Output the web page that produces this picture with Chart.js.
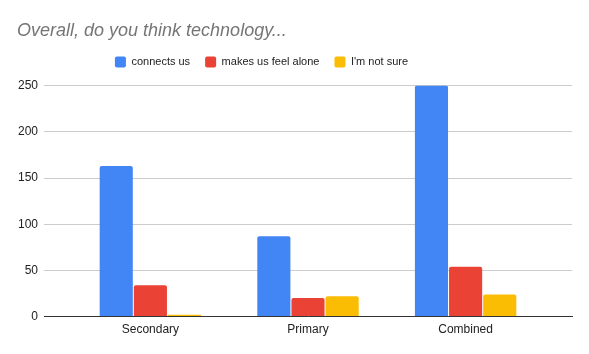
<!DOCTYPE html>
<html>
<head>
<meta charset="utf-8">
<script src="https://cdn.jsdelivr.net/npm/chart.js@4/dist/chart.umd.min.js"></script>
<style>
    body { margin: 0; background: #fff; }
    #wrap { width: 589px; height: 354px; }
</style>
</head>
<body>
<div id="wrap"><canvas id="techChart"></canvas></div>
<script>
const categories = ['Secondary', 'Primary', 'Combined'];
const connectsUs = [163, 87, 250];
const feelAlone = [34, 20, 54];
const notSure = [2, 22, 24];
const yTicks = [0, 50, 100, 150, 200, 250];

function points(values){
    return values.map((v, i) => ({x: i, y: v}));
}

function makeDataset(label, values, color){
    return {
        label: label,
        data: points(values),
        backgroundColor: color,
        borderRadius: {topLeft: 2, topRight: 2},
        borderSkipped: 'bottom',
        categoryPercentage: 0.65,
        barPercentage: 0.97
    };
}

// a bit more room under the legend, and legend pushed left like google's
const legendTweak = {
    id: 'legendTweak',
    beforeInit(chart){
        const fit = chart.legend.fit;
        chart.legend.fit = function(){
            fit.call(this);
            this.height += 8;
        };
    },
    afterLayout(chart){
        chart.legend.left -= 33;
        chart.legend.right -= 33;
    }
};

const data = {
    datasets: [
        makeDataset('connects us', connectsUs, '#4285F4'),
        makeDataset('makes us feel alone', feelAlone, '#EA4335'),
        makeDataset("I'm not sure", notSure, '#FBBC04')
    ]
};

const config = {
    type: 'bar',
    data: data,
    plugins: [legendTweak],
    options: {
        responsive: true,
        maintainAspectRatio: false,
        animation: false,
        layout: {
            padding: {left: 17, right: 17, top: 20, bottom: 11}
        },
        plugins: {
            title: {
                display: true,
                text: 'Overall, do you think technology...',
                align: 'start',
                color: '#757575',
                font: {family: 'Liberation Sans, Arial', size: 18, style: 'italic', weight: 'normal'},
                padding: {top: 0, bottom: 0}
            },
            legend: {
                position: 'top',
                labels: {
                    color: '#222',
                    font: {family: 'Liberation Sans, Arial', size: 11},
                    boxWidth: 11,
                    boxHeight: 11,
                    useBorderRadius: true,
                    borderRadius: 2,
                    padding: 15
                }
            },
            tooltip: {enabled: false}
        },
        scales: {
            x: {
                type: 'linear',
                offset: false,
                min: -0.675,
                max: 2.675,
                grid: {display: false, drawTicks: false},
                border: {display: true, color: '#333', width: 1},
                ticks: {
                    stepSize: 1,
                    includeBounds: false,
                    autoSkip: false,
                    maxRotation: 0,
                    color: '#222',
                    padding: 6,
                    font: {family: 'Liberation Sans, Arial', size: 12},
                    callback: function(v){
                        return Number.isInteger(v) ? categories[v] : '';
                    }
                }
            },
            y: {
                min: yTicks[0],
                max: yTicks[yTicks.length - 1],
                afterFit: function(scale){ scale.width = 27; },
                grid: {color: '#cccccc', drawTicks: false},
                border: {display: false},
                ticks: {
                    stepSize: yTicks[1] - yTicks[0],
                    color: '#222',
                    padding: 6,
                    font: {family: 'Liberation Sans, Arial', size: 12}
                }
            }
        }
    }
};

new Chart(document.getElementById('techChart'), config);
</script>
</body>
</html>
